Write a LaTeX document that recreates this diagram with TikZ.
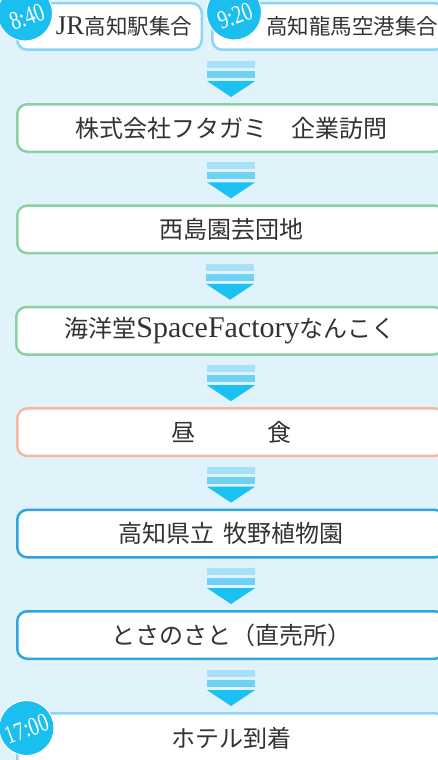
\documentclass[tikz,border=0pt]{standalone}
\usepackage{fontspec}
\newfontfamily\jp{Noto Sans CJK JP}
\newfontfamily\lat{Liberation Serif}
\newfontfamily\latc[FakeStretch=0.76]{Liberation Serif}
\definecolor{bgc}{HTML}{E0F2FA}
\definecolor{greenc}{HTML}{8CD1A3}
\definecolor{salmonc}{HTML}{F7B8A0}
\definecolor{bluec}{HTML}{2DA5DD}
\definecolor{lightc}{HTML}{8DD5F4}
\definecolor{circc}{HTML}{1ABFF0}
\definecolor{sonec}{HTML}{A8E0F8}
\definecolor{stwoc}{HTML}{6ED1F5}
\definecolor{tric}{HTML}{1BC1F1}
\definecolor{txtc}{HTML}{333333}
\newcommand\flowarrow[2]{%
  \fill[sonec] ([xshift=-24pt,yshift=36.25pt]#2.north) rectangle ([xshift=24pt,yshift=43.25pt]#2.north);
  \fill[stwoc] ([xshift=-24pt,yshift=26.25pt]#2.north) rectangle ([xshift=24pt,yshift=33.25pt]#2.north);
  \fill[tric] ([xshift=-24pt,yshift=23.25pt]#2.north) -- ([xshift=24pt,yshift=23.25pt]#2.north) -- ([yshift=7.25pt]#2.north) -- cycle;
}
\newcommand\latbig[1]{{\lat\fontsize{30}{30}\selectfont #1}}
\begin{document}
\begin{tikzpicture}[x=1pt,y=-1pt,
  box/.style={draw, fill=white, line width=2.5pt, rounded corners=10pt, inner sep=0pt, outer sep=0pt, minimum width=427.5pt, minimum height=47.5pt, text=txtc, font=\jp\fontsize{24}{24}\selectfont},
  txt/.style={text=txtc, inner sep=0pt, font=\jp\fontsize{24}{24}\selectfont},
  toptxt/.style={text=txtc, inner sep=0pt, font=\jp\fontsize{21.5}{21.5}\selectfont},
  timec/.style={circle, fill=circc, draw=white, line width=1pt, minimum size=55pt, inner sep=0pt},
  timet/.style={text=white, inner sep=0pt, rotate=20, font=\latc\fontsize{26}{26}\selectfont}]
\fill[bgc] (0,0) rectangle (438,760);
\useasboundingbox (0,0) rectangle (438,760);

% start boxes
\node[box, draw=lightc, minimum width=184.5pt, minimum height=46.5pt] (s1) at (109.5,26.5) {};
\node[box, draw=lightc, minimum width=232.5pt, minimum height=46.5pt] (s2) at (328.5,26.5) {};
\node[toptxt] (s1t) at (124,26) {{\lat\fontsize{27}{27}\selectfont JR}高知駅集合};
\node[toptxt] (s2t) at (352,26) {高知龍馬空港集合};

% steps
\node[box, draw=greenc] (b1) at (231,128) {株式会社フタガミ　企業訪問};
\node[box, draw=greenc] (b2) at (231,229.4) {西島園芸団地};
\node[box, draw=greenc] (b3) at (230,330.8) {海洋堂\latbig{SpaceFactory}なんこく};
\node[box, draw=salmonc] (b4) at (231,432.2) {昼　　　食};
\node[box, draw=bluec] (b5) at (231,533.6) {高知県立\hspace{0.4em}牧野植物園};
\node[box, draw=bluec] (b6) at (231,635) {とさのさと（直売所）};
\node[box, draw=lightc, minimum height=77.5pt] (b7) at (231,752) {};
\node[txt] (b7t) at (231,738) {ホテル到着};

% connectors
\flowarrow{s1}{b1}
\flowarrow{b1}{b2}
\flowarrow{b2}{b3}
\flowarrow{b3}{b4}
\flowarrow{b4}{b5}
\flowarrow{b5}{b6}
\flowarrow{b6}{b7}

% times
\node[timec] (c1) at (25,13.5) {};
\node[timec] (c2) at (234,12.5) {};
\node[timec] (c3) at (26.5,728) {};
\node[timet] (c1t) at (27,17) {8:40};
\node[timet] (c2t) at (235,16) {9:20};
\node[timet] (c3t) at (26.5,729) {17:00};
\end{tikzpicture}
\end{document}
